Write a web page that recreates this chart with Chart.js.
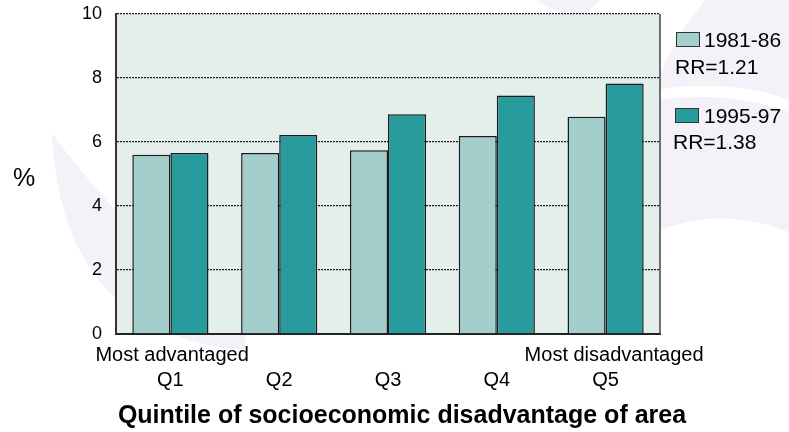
<!DOCTYPE html>
<html>
<head>
<meta charset="utf-8">
<script src="https://cdn.jsdelivr.net/npm/chart.js@4/dist/chart.umd.min.js"></script>
<style>
  html, body { margin: 0; padding: 0; background: #ffffff; }
  #wrap { width: 789px; height: 432px; position: relative; }
</style>
</head>
<body>
<div id="wrap"><canvas id="chart" width="789" height="432"></canvas></div>
<script>
// Quintile categories and the two study periods
const categories = ['Q1', 'Q2', 'Q3', 'Q4', 'Q5'];
const periodLabels = ['1981-86', '1995-97'];
const rateRatios = ['RR=1.21', 'RR=1.38'];
const values1981 = [5.60, 5.66, 5.74, 6.19, 6.79];
const values1995 = [5.66, 6.22, 6.87, 7.45, 7.83];
const endLabels = ['Most advantaged', 'Most disadvantaged'];
const xTitle = 'Quintile of socioeconomic disadvantage of area';
const yTitle = '%';

const FONT = "'Liberation Sans', Arial, Helvetica, sans-serif";
const LIGHT = '#a3cecc';
const DARK = '#289b9d';
const EDGE = '#1b1b1b';
const PLOT_BG = '#e4eeeb';
const WASH = '#f4f1f8';

// faint background artwork and the plot panel fill
const backdrop = {
  id: 'backdrop',
  beforeDraw(chart) {
    const { ctx, chartArea: a } = chart;
    ctx.save();
    ctx.fillStyle = WASH;
    // left crescent
    ctx.beginPath();
    ctx.moveTo(52, 133);
    ctx.quadraticCurveTo(62, 335, 245, 350);
    ctx.lineTo(245, 334);
    ctx.quadraticCurveTo(110, 215, 52, 133);
    ctx.closePath();
    ctx.fill();
    // small sweep above the panel
    ctx.beginPath();
    ctx.moveTo(538, 0);
    ctx.quadraticCurveTo(556, 16, 585, 14);
    ctx.lineTo(600, 0);
    ctx.closePath();
    ctx.fill();
    // upper right sweep
    ctx.beginPath();
    ctx.moveTo(705, 0);
    ctx.quadraticCurveTo(668, 45, 655, 90);
    ctx.quadraticCurveTo(730, 78, 789, 100);
    ctx.lineTo(789, 0);
    ctx.closePath();
    ctx.fill();
    // middle right band
    ctx.beginPath();
    ctx.moveTo(655, 100);
    ctx.quadraticCurveTo(730, 90, 789, 112);
    ctx.lineTo(789, 232);
    ctx.quadraticCurveTo(720, 205, 655, 232);
    ctx.closePath();
    ctx.fill();
    // plot panel
    ctx.fillStyle = PLOT_BG;
    ctx.fillRect(a.left, a.top, a.right - a.left, a.bottom - a.top);
    ctx.restore();
  }
};

// frame edge, end labels, axis titles and the legend
const annotations = {
  id: 'annotations',
  afterDraw(chart) {
    const { ctx, chartArea: a, scales } = chart;
    ctx.save();
    // right edge of the panel
    ctx.strokeStyle = '#444';
    ctx.lineWidth = 1.5;
    ctx.beginPath();
    ctx.moveTo(a.right, a.top);
    ctx.lineTo(a.right, a.bottom);
    ctx.stroke();

    ctx.fillStyle = '#000';
    ctx.textBaseline = 'alphabetic';

    // extreme quintile descriptions
    ctx.font = '20px ' + FONT;
    const x = scales.x;
    ctx.textAlign = 'left';
    ctx.fillText(endLabels[0], x.getPixelForValue(0) - 75, 361);
    ctx.textAlign = 'right';
    ctx.fillText(endLabels[1], x.getPixelForValue(categories.length - 1) + 98, 361);

    // x axis title
    ctx.font = 'bold 25px ' + FONT;
    ctx.textAlign = 'center';
    ctx.fillText(xTitle, 402, 423);

    // y axis title
    ctx.font = '25px ' + FONT;
    ctx.textAlign = 'center';
    ctx.fillText(yTitle, 24, 186);

    // legend
    const rows = [
      { box: [676, 32, 23, 14], tx: 704, ty: 47, ry: 74, rx: 675 },
      { box: [675, 108, 23, 14], tx: 704, ty: 123, ry: 149, rx: 673 }
    ];
    chart.data.datasets.forEach((ds, i) => {
      const r = rows[i];
      ctx.fillStyle = ds.backgroundColor;
      ctx.fillRect(r.box[0], r.box[1], r.box[2], r.box[3]);
      ctx.strokeStyle = '#333';
      ctx.lineWidth = 1;
      ctx.strokeRect(r.box[0] + 0.5, r.box[1] + 0.5, r.box[2], r.box[3]);
      ctx.fillStyle = '#000';
      ctx.font = '21px ' + FONT;
      ctx.textAlign = 'left';
      ctx.fillText(ds.label, r.tx, r.ty);
      ctx.fillText(rateRatios[i], r.rx, r.ry);
    });
    ctx.restore();
  }
};

new Chart(document.getElementById('chart'), {
  type: 'bar',
  data: {
    labels: categories,
    datasets: [
      {
        label: periodLabels[0],
        data: values1981,
        backgroundColor: LIGHT,
        borderColor: EDGE,
        borderWidth: 1.5,
        categoryPercentage: 0.7,
        barPercentage: 1.0
      },
      {
        label: periodLabels[1],
        data: values1995,
        backgroundColor: DARK,
        borderColor: EDGE,
        borderWidth: 1.5,
        categoryPercentage: 0.7,
        barPercentage: 1.0
      }
    ]
  },
  options: {
    responsive: false,
    animation: false,
    devicePixelRatio: 1,
    layout: { padding: { left: 0, right: 129, top: 14, bottom: 0 } },
    plugins: {
      legend: { display: false },
      tooltip: { enabled: false }
    },
    scales: {
      x: {
        grid: { display: false, drawTicks: false },
        border: { display: true, color: '#222', width: 2 },
        ticks: {
          color: '#000',
          font: { family: FONT, size: 20 },
          padding: 34,
          maxRotation: 0
        },
        afterFit(scale) { scale.height = 98; }
      },
      y: {
        min: 0,
        max: 10,
        grid: { color: '#1a1a1a', lineWidth: 1.3, drawTicks: false },
        border: { display: true, color: '#333', width: 2, dash: [2, 1] },
        ticks: {
          stepSize: 2,
          color: '#000',
          font: { family: FONT, size: 18 },
          padding: 14
        },
        afterFit(scale) {
          scale.width = 116;
          // keep the panel top fixed by the layout padding alone
          scale.paddingTop = 0;
          scale.paddingBottom = 0;
        }
      }
    }
  },
  plugins: [backdrop, annotations]
});
</script>
</body>
</html>
